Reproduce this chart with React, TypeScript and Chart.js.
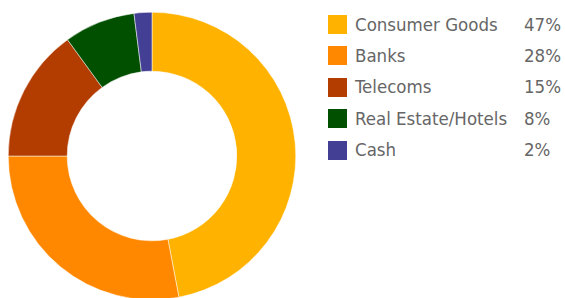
import React, { useEffect, useRef } from "react";
import { Chart, registerables } from "chart.js";

Chart.register(...registerables);

const categories = ["Consumer Goods", "Banks", "Telecoms", "Real Estate/Hotels", "Cash"];
const values = [47, 28, 15, 8, 2];
const valueLabels = ["47%", "28%", "15%", "8%", "2%"];
const colors = ["#FFB300", "#FF8800", "#B33C00", "#005000", "#433F94"];

export default function App() {
  const ref = useRef<HTMLCanvasElement | null>(null);

  useEffect(() => {
    if (!ref.current) return;
    const chart = new Chart(ref.current, {
      type: "doughnut",
      data: {
        labels: categories,
        datasets: [
          {
            data: values,
            backgroundColor: colors,
            borderColor: "#ffffff",
            borderWidth: 0.5,
          },
        ],
      },
      options: {
        responsive: false,
        animation: false,
        cutout: "59%",
        layout: { padding: 0 },
        plugins: {
          legend: { display: false },
          tooltip: { enabled: false },
        },
      },
    });
    return () => chart.destroy();
  }, []);

  const font = "'DejaVu Sans Condensed', 'DejaVu Sans', sans-serif";

  return (
    <div
      style={{
        position: "fixed",
        left: 0,
        top: 0,
        width: 565,
        height: 298,
        overflow: "hidden",
        background: "#ffffff",
      }}
    >
      <canvas
        ref={ref}
        width={288}
        height={288}
        style={{ position: "absolute", left: 8, top: 12, width: 288, height: 288 }}
      />
      {categories.map((c, i) => {
        const cy = 24.5 + i * 31.4;
        return (
          <React.Fragment key={c}>
            <div
              style={{
                position: "absolute",
                left: 328,
                top: cy - 9.5,
                width: 19,
                height: 19,
                background: colors[i],
              }}
            />
            <div
              style={{
                position: "absolute",
                left: 355,
                top: cy - 12,
                height: 24,
                lineHeight: "24px",
                fontFamily: font,
                fontSize: 18.5,
                color: "#666666",
                whiteSpace: "nowrap",
              }}
            >
              {c}
            </div>
            <div
              style={{
                position: "absolute",
                left: 524,
                top: cy - 12,
                height: 24,
                lineHeight: "24px",
                fontFamily: font,
                fontSize: 18.5,
                color: "#666666",
                whiteSpace: "nowrap",
              }}
            >
              {valueLabels[i]}
            </div>
          </React.Fragment>
        );
      })}
    </div>
  );
}
